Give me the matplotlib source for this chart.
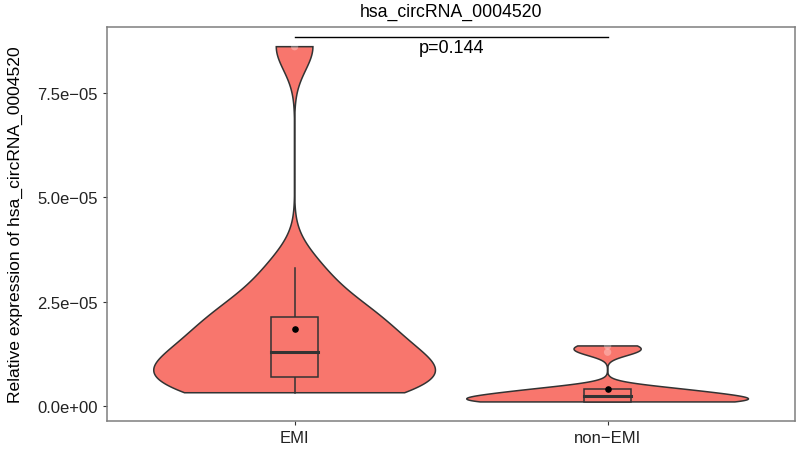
import matplotlib
matplotlib.use("Agg")
import matplotlib.pyplot as plt
import numpy as np

plt.rcParams['font.family'] = ['Liberation Sans', 'DejaVu Sans']

title = "hsa_circRNA_0004520"
ylabel = "Relative expression of hsa_circRNA_0004520"
groups = ["EMI", "non\u2212EMI"]
p_label = "p=0.144"

# values
emi = [3.2e-6, 3.6e-6, 5.0e-6, 6.5e-6, 7.3e-6, 8.5e-6, 10.5e-6, 12.9e-6,
       15.0e-6, 17.5e-6, 20.5e-6, 22.0e-6, 26.0e-6, 33.0e-6, 86.0e-6]
non_emi = [1.0e-6, 1.0e-6, 1.0e-6, 1.0e-6, 1.6e-6, 2.2e-6, 2.6e-6, 3.0e-6,
           3.9e-6, 4.3e-6, 12.9e-6, 14.4e-6]
data = [emi, non_emi]

yticks = [0.0, 2.5e-5, 5.0e-5, 7.5e-5]

fill = "#F8766D"
edge = "#333333"


def nrd0(x):
    x = np.asarray(x)
    sd = x.std(ddof=1)
    iqr = np.subtract(*np.percentile(x, [75, 25]))
    lo = min(sd, iqr / 1.34)
    return 0.9 * lo * len(x) ** -0.2


def kde(x, grid):
    x = np.asarray(x)
    h = nrd0(x)
    z = (grid[:, None] - x[None, :]) / h
    return np.exp(-0.5 * z ** 2).sum(axis=1) / (len(x) * h * np.sqrt(2 * np.pi))


fig, ax = plt.subplots(figsize=(7.97, 4.52), dpi=100)
fig.subplots_adjust(left=0.134, right=0.998, top=0.938, bottom=0.066)

for i, vals in enumerate(data):
    pos = i + 1
    vals = np.asarray(vals)
    grid = np.linspace(vals.min(), vals.max(), 512)
    d = kde(vals, grid)
    w = d / d.max() * 0.45
    xs = np.concatenate([pos - w, (pos + w)[::-1], [pos - w[0]]])
    ys = np.concatenate([grid, grid[::-1], [grid[0]]])
    ax.fill(xs, ys, facecolor=fill, edgecolor=edge, linewidth=1.1, zorder=2)

    q1, med, q3 = np.percentile(vals, [25, 50, 75])
    iqr = q3 - q1
    lo = vals[vals >= q1 - 1.5 * iqr].min()
    hi = vals[vals <= q3 + 1.5 * iqr].max()
    bw = 0.075
    ax.plot([pos, pos], [hi, q3], color=edge, lw=1.1, zorder=3)
    ax.plot([pos, pos], [q1, lo], color=edge, lw=1.1, zorder=3)
    ax.add_patch(plt.Rectangle((pos - bw, q1), 2 * bw, q3 - q1, facecolor=fill,
                               edgecolor=edge, lw=1.1, zorder=3))
    ax.plot([pos - bw, pos + bw], [med, med], color=edge, lw=2.2, zorder=4)
    out = vals[(vals < lo) | (vals > hi)]
    ax.scatter([pos] * len(out), out, s=28, color="white", alpha=0.3,
               edgecolors="none", zorder=4)
    ax.scatter([pos], [vals.mean()], s=14, color="black", zorder=5)

# significance bar
ax.plot([1, 2], [88.2e-6, 88.2e-6], color="black", lw=1.0)
ax.text(1.5, 87.9e-6, p_label, ha="center", va="top", fontsize=13)

ax.set_xlim(0.4, 2.6)
ax.set_ylim(-3.6e-6, 9.07e-5)
ax.set_xticks([1, 2])
ax.set_xticklabels(groups)
ax.set_yticks(yticks)
ax.set_yticklabels([f"{v:.1e}".replace("-", "\u2212") for v in yticks])
ax.tick_params(labelsize=12, length=3, color="#333333", labelcolor="#222222")
ax.set_ylabel(ylabel, fontsize=12.6, labelpad=10)
ax.set_title(title, fontsize=12.7, pad=8)
for s in ax.spines.values():
    s.set_color("#7f7f7f")
    s.set_linewidth(1.1)

fig.savefig("out.png", dpi=100)
